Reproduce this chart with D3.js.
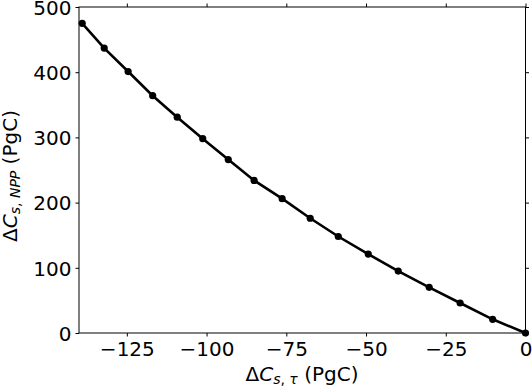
<!DOCTYPE html>
<html>
<head>
<meta charset="utf-8">
<script src="https://cdn.jsdelivr.net/npm/d3@7"></script>
<style>
  body { margin: 0; background: #fff; }
  text { font-family: "DejaVu Sans", sans-serif; fill: #000; }
</style>
</head>
<body>
<svg></svg>
<script>
const width = 532, height = 388;

// change in soil carbon due to turnover (x) vs due to NPP (y)
const dCtau = [-139.0, -132.1, -124.6, -116.9, -109.2, -101.2, -93.2, -85.1, -76.3,
               -67.5, -58.7, -49.3, -39.9, -30.2, -20.5, -10.3, 0];
const dCnpp = [475, 437, 401, 364, 331, 298, 266, 234, 206,
               176, 148, 121, 95, 70, 46, 21, 0];
const xTicks = [-125, -100, -75, -50, -25, 0];
const yTicks = [0, 100, 200, 300, 400, 500];

const svg = d3.select("svg").attr("width", width).attr("height", height);

const mLeft = 79, mRight = 525.5, mTop = 7, mBottom = 333;

const x = d3.scaleLinear().domain([-140, 0]).range([mLeft, mRight]);
const y = d3.scaleLinear().domain([0, 500]).range([mBottom, mTop]);

const fmt = d => d < 0 ? "\u2212" + Math.abs(d) : String(d);

// bottom axis
const gx = svg.append("g").attr("transform", `translate(0,${mBottom})`)
    .call(d3.axisBottom(x).tickValues(xTicks).tickFormat(fmt).tickSize(3.5).tickPadding(4));
// top axis (ticks only)
const gxt = svg.append("g").attr("transform", `translate(0,${mTop})`)
    .call(d3.axisTop(x).tickValues(xTicks).tickFormat("").tickSize(3.5));
// left axis
const gy = svg.append("g").attr("transform", `translate(${mLeft},0)`)
    .call(d3.axisLeft(y).tickValues(yTicks).tickFormat(fmt).tickSize(3.5).tickPadding(4));
// right axis (ticks only)
const gyr = svg.append("g").attr("transform", `translate(${mRight},0)`)
    .call(d3.axisRight(y).tickValues(yTicks).tickFormat("").tickSize(3.5));

[gx, gxt, gy, gyr].forEach(g => {
    g.selectAll("path.domain").remove();
    g.selectAll("line").attr("stroke", "#000").attr("stroke-width", 1);
    g.selectAll("text").style("font-size", "20px").attr("fill", "#000");
});
gx.selectAll("text").attr("dy", "0.78em");
gy.selectAll("text").attr("dy", "0.36em");

// frame
svg.append("rect")
    .attr("x", mLeft).attr("y", mTop)
    .attr("width", mRight - mLeft).attr("height", mBottom - mTop)
    .attr("fill", "none").attr("stroke", "#000").attr("stroke-width", 1);

const pts = dCtau.map((d, i) => [d, dCnpp[i]]);

svg.append("path")
    .datum(pts)
    .attr("fill", "none")
    .attr("stroke", "#000")
    .attr("stroke-width", 2.6)
    .attr("d", d3.line().x(d => x(d[0])).y(d => y(d[1])));

svg.selectAll("circle.pt")
    .data(pts)
    .enter()
    .append("circle")
    .attr("class", "pt")
    .attr("cx", d => x(d[0]))
    .attr("cy", d => y(d[1]))
    .attr("r", 3.6)
    .attr("fill", "#000");

// x label
const xl = svg.append("text")
    .attr("x", 302).attr("y", 380.5)
    .attr("text-anchor", "middle")
    .style("font-size", "20px");
xl.append("tspan").text("\u0394");
xl.append("tspan").style("font-style", "italic").text("C");
xl.append("tspan").style("font-size", "14px").attr("dy", 3).style("font-style", "italic").text("s");
xl.append("tspan").style("font-size", "14px").text(", ");
xl.append("tspan").style("font-size", "14px").style("font-style", "italic").text("\u03C4");
xl.append("tspan").attr("dy", -3).text(" (PgC)");

// y label
const yl = svg.append("text")
    .attr("transform", `translate(17,176) rotate(-90)`)
    .attr("text-anchor", "middle")
    .style("font-size", "20px");
yl.append("tspan").text("\u0394");
yl.append("tspan").style("font-style", "italic").text("C");
yl.append("tspan").style("font-size", "14px").attr("dy", 3).style("font-style", "italic").text("s");
yl.append("tspan").style("font-size", "14px").text(", ");
yl.append("tspan").style("font-size", "14px").style("font-style", "italic").text("NPP");
yl.append("tspan").attr("dy", -3).text(" (PgC)");
</script>
</body>
</html>
